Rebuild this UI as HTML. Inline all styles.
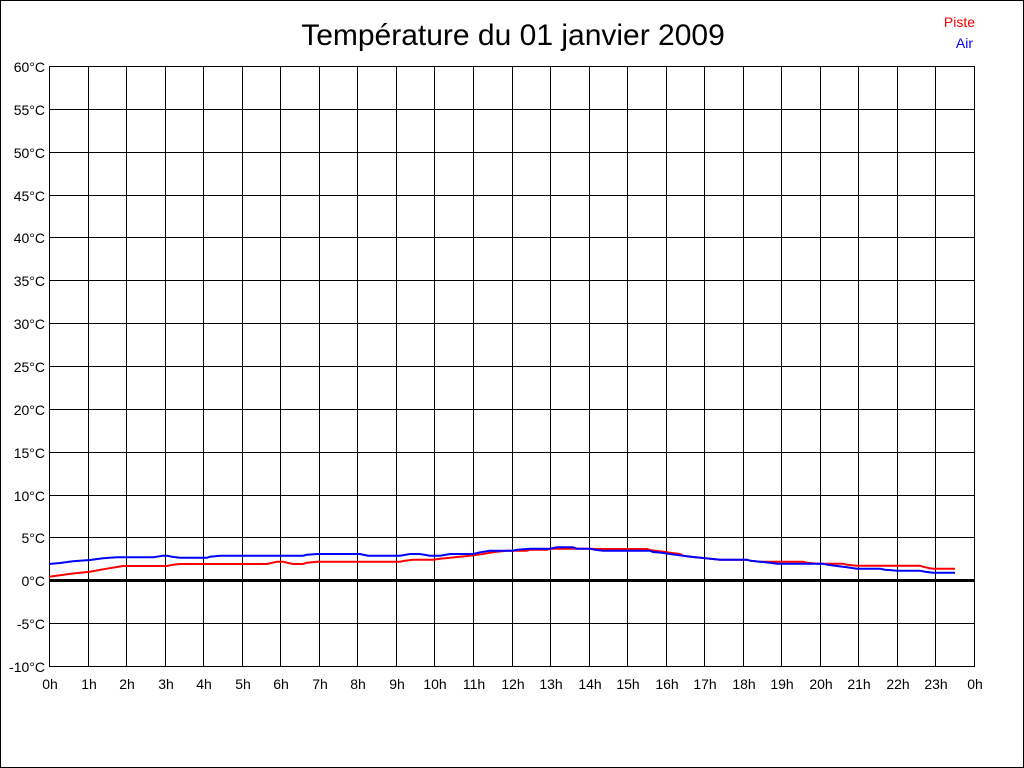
<!DOCTYPE html>
<html>
<head>
<meta charset="utf-8">
<style>
html,body{margin:0;padding:0;background:#fff;}
svg{display:block;}
text{font-family:"Liberation Sans",Arial,sans-serif;fill:#000;}
</style>
</head>
<body>
<svg width="1024" height="768" viewBox="0 0 1024 768" xmlns="http://www.w3.org/2000/svg">
<rect x="0" y="0" width="1024" height="768" fill="#fff"/>
<rect x="0.5" y="0.5" width="1023" height="767" fill="none" stroke="#000" stroke-width="1"/>

<text x="513" y="45" font-size="30" text-anchor="middle">Température du 01 janvier 2009</text>
<text x="975" y="27" font-size="14" text-anchor="end" style="fill:#ff0000">Piste</text>
<text x="973" y="48" font-size="14" text-anchor="end" style="fill:#0000ff">Air</text>

<g stroke="#000" stroke-width="1" shape-rendering="crispEdges" fill="none">
<path d="M49 66.5H974.5M49 109.5H974.5M49 152.5H974.5M49 195.5H974.5M49 237.5H974.5M49 280.5H974.5M49 323.5H974.5M49 366.5H974.5M49 409.5H974.5M49 452.5H974.5M49 495.5H974.5M49 537.5H974.5M49 623.5H974.5M49 666.5H974.5"/>
<path d="M49.5 66V667M88.5 66V667M126.5 66V667M165.5 66V667M203.5 66V667M242.5 66V667M280.5 66V667M319.5 66V667M357.5 66V667M396.5 66V667M434.5 66V667M473.5 66V667M512.5 66V667M550.5 66V667M589.5 66V667M627.5 66V667M666.5 66V667M704.5 66V667M743.5 66V667M781.5 66V667M820.5 66V667M858.5 66V667M897.5 66V667M935.5 66V667M974.5 66V667"/>
</g>
<rect x="49" y="579" width="926" height="3" fill="#000"/>

<g font-size="14" text-anchor="end">
<text x="45" y="72">60°C</text>
<text x="45" y="115">55°C</text>
<text x="45" y="158">50°C</text>
<text x="45" y="201">45°C</text>
<text x="45" y="243">40°C</text>
<text x="45" y="286">35°C</text>
<text x="45" y="329">30°C</text>
<text x="45" y="372">25°C</text>
<text x="45" y="415">20°C</text>
<text x="45" y="458">15°C</text>
<text x="45" y="501">10°C</text>
<text x="45" y="543">5°C</text>
<text x="45" y="586">0°C</text>
<text x="45" y="629">-5°C</text>
<text x="45" y="672">-10°C</text>
</g>

<g font-size="14" text-anchor="middle">
<text x="50" y="689">0h</text>
<text x="89" y="689">1h</text>
<text x="127" y="689">2h</text>
<text x="166" y="689">3h</text>
<text x="204" y="689">4h</text>
<text x="243" y="689">5h</text>
<text x="281" y="689">6h</text>
<text x="320" y="689">7h</text>
<text x="358" y="689">8h</text>
<text x="397" y="689">9h</text>
<text x="435" y="689">10h</text>
<text x="474" y="689">11h</text>
<text x="513" y="689">12h</text>
<text x="551" y="689">13h</text>
<text x="590" y="689">14h</text>
<text x="628" y="689">15h</text>
<text x="667" y="689">16h</text>
<text x="705" y="689">17h</text>
<text x="744" y="689">18h</text>
<text x="782" y="689">19h</text>
<text x="821" y="689">20h</text>
<text x="859" y="689">21h</text>
<text x="898" y="689">22h</text>
<text x="936" y="689">23h</text>
<text x="975" y="689">0h</text>
</g>

<polyline fill="none" stroke="#ff0000" stroke-width="2" points="49,576.7 60,575.2 73,573.5 90,571.7 103,569.3 123,566 167,566 173,564.7 180,564 267,564 277,561.7 283,561.7 287,562.7 293,564 303,564 307,562.7 317,561.7 400,561.7 405,560.7 413,559.7 433,559.7 440,558.7 450,557.7 460,556.7 470,555.7 475,555 483,554 490,552.7 497,551.7 507,550.7 527,550.7 530,549.7 547,549.7 550,548.7 590,548.7 595,549 647,549 650,550 657,551 664,551.8 670,552.7 680,554 683,555.7 693,557 703,558 713,559 720,559.7 747,559.7 750,560.7 760,561.7 803,561.7 807,562.7 817,563.7 843,563.7 847,564.7 857,565.7 920,565.7 923,566.7 927,567.7 933,568.7 955,568.7"/>

<polyline fill="none" stroke="#0000ff" stroke-width="2" points="49,564 60,563 73,561.3 90,560 103,558.3 117,557.3 153,557.3 163,555.7 167,555.7 172,556.7 180,557.7 207,557.7 210,556.7 220,555.7 303,555.7 307,554.8 317,554 360,554 368,555.7 400,555.7 410,554 420,554 430,555.7 440,555.7 450,554 473,554 480,552.3 490,550.7 513,550.7 517,549.7 530,548.7 550,548.7 557,547.3 573,547.3 577,548.7 590,548.7 595,549.7 603,550.7 650,550.7 653,552 662,552.8 670,554 683,555.7 693,557 703,558 713,559 720,559.7 747,559.7 750,560.7 760,561.7 770,562.7 777,563.7 823,563.7 827,564.7 837,566 847,567.3 857,568.7 880,568.7 885,569.7 897,570.7 920,570.7 925,571.7 933,572.7 955,572.7"/>
</svg>
</body>
</html>
